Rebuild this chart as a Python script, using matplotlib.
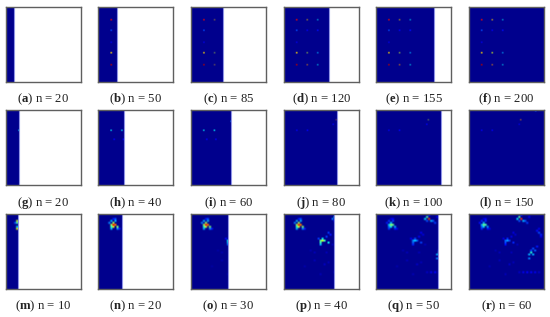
import matplotlib
matplotlib.use('Agg')
import matplotlib.pyplot as plt
import numpy as np
from matplotlib.patches import Rectangle

plt.rcParams['font.family'] = ['Liberation Serif', 'DejaVu Serif']
plt.rcParams['mathtext.fontset'] = 'custom'
plt.rcParams['mathtext.rm'] = 'Liberation Serif'
plt.rcParams['mathtext.bf'] = 'Liberation Serif:bold'

letters = list('abcdefghijklmnopqr')
n_values = [20, 50, 85, 120, 155, 200,
            20, 40, 60, 80, 100, 150,
            10, 20, 30, 40, 50, 60]
# share of the grid already filled at that n
fill = [0.10, 0.257, 0.42, 0.60, 0.775, 1.0,
        0.17, 0.35, 0.53, 0.70, 0.87, 1.0,
        0.155, 0.32, 0.487, 0.664, 0.827, 1.0]

# (column, row, value, strength) on a 75 x 75 scale
col1 = [(12, 12, 0.9, 1), (12, 23, 0.2, 1), (12, 35, 0.09, 1), (12, 46, 0.68, 1), (12, 57, 0.95, 1)]
col2_weak = [(23, 12, 0.7, 0.4), (23, 46, 0.6, 0.4), (23, 57, 0.7, 0.35)]
col2 = [(23, 12, 0.7, 0.55), (23, 23, 0.1, 1), (23, 46, 0.6, 0.55), (23, 57, 0.75, 0.55)]
col3 = [(34, 12, 0.35, 0.6), (34, 23, 0.14, 1), (34, 46, 0.3, 0.7), (34, 57, 0.35, 0.6)]
col2_last = [(23, 12, 0.7, 0.7), (23, 23, 0.1, 1), (23, 46, 0.62, 0.8), (23, 57, 0.75, 0.6)]
pair = [(13, 20, 0.35, 0.9), (23, 20, 0.35, 0.9), (15, 29, 0.12, 1), (24, 29, 0.12, 1)]
pair_faint = [(13, 20, 0.1, 1), (23, 20, 0.1, 1)]
blob_a = [(15, 11, 0.9, 1), (17, 11, 0.78, 1), (13, 11, 0.55, 1), (15, 9, 0.55, 1), (15, 13, 0.6, 1), (13, 13, 0.4, 1),
          (19, 13, 0.5, 1), (13, 7, 0.3, 1), (17, 7, 0.3, 1), (11, 9, 0.25, 1), (13, 15, 0.3, 1), (19, 15, 0.25, 1),
          (21, 15, 0.15, 1), (15, 5, 0.15, 1), (17, 5, 0.2, 1)]
blob_b = [(38, 26, 0.5, 1), (36, 26, 0.4, 1), (40, 26, 0.35, 1), (36, 28, 0.35, 1), (38, 24, 0.3, 1), (36, 30, 0.25, 1),
          (44, 29, 0.3, 1), (42, 22, 0.15, 1), (44, 18, 0.15, 1), (46, 20, 0.12, 1), (34, 24, 0.15, 1)]
blob_c = [(52, 5, 0.85, 1), (50, 3, 0.45, 1), (48, 4, 0.35, 1), (54, 7, 0.3, 1), (56, 6, 0.22, 1), (58, 8, 0.18, 1),
          (50, 7, 0.2, 1), (60, 3, 0.1, 1), (52, 1, 0.15, 1)]
blob_d = [(62, 39, 0.4, 1), (60, 41, 0.3, 1), (64, 41, 0.3, 1), (60, 45, 0.25, 1), (66, 36, 0.22, 1), (64, 35, 0.2, 1),
          (68, 33, 0.15, 1), (62, 37, 0.2, 1)]
blob_e = [(71, 18, 0.2, 1), (69, 16, 0.14, 1), (73, 20, 0.16, 1), (71, 14, 0.1, 1), (73, 23, 0.1, 1)]
streak = [(50, 59, 0.06, 1), (54, 59, 0.1, 1), (58, 59, 0.12, 1), (62, 59, 0.12, 1), (66, 58, 0.1, 1), (70, 58, 0.07, 1)]
haze = [(30, 46, 0.05, 1), (40, 50, 0.06, 1), (44, 48, 0.05, 1), (26, 36, 0.04, 1), (48, 30, 0.05, 1), (30, 38, 0.05, 1),
        (20, 52, 0.04, 1), (36, 60, 0.05, 1), (42, 38, 0.05, 1)]


def scaled(cells, k):
    return [(c, r, v * k, s) for c, r, v, s in cells]


spots = [
    [],
    col1,
    col1 + col2_weak,
    col1 + col2 + col3,
    col1 + col2 + col3,
    col1 + col2_last + col3,
    [(12, 20, 0.35, 0.9)],
    pair,
    pair + [(40, 11, 0.25, 0.8)],
    pair_faint + [(52, 10, 0.75, 0.35), (49, 14, 0.1, 1)],
    pair_faint + [(52, 10, 0.6, 0.35), (50, 14, 0.1, 1)],
    pair_faint + [(52, 10, 0.75, 0.5), (50, 14, 0.08, 1), (66, 0, 0.2, 1)],
    [(11, 7, 0.6, 1), (11, 9, 0.45, 1), (11, 13, 0.35, 1), (11, 15, 0.65, 1), (9, 9, 0.2, 1)],
    blob_a,
    blob_a + scaled(blob_b, 0.9) + scaled(haze, 0.8),
    blob_a + scaled(blob_b, 1.2) + scaled(blob_c, 0.7) + haze + streak,
    scaled(blob_a, 0.6) + scaled(blob_b, 0.65) + blob_c + blob_d + haze + streak,
    scaled(blob_a, 0.55) + scaled(blob_b, 0.55) + blob_c + blob_d + blob_e + haze + streak,
]

lefts = [6, 98, 191, 284, 376, 469]
tops = [7, 110, 214]
size = 75
caption_y = [99, 203, 306.5]
base = 0.015

W, H = 550, 317
fig = plt.figure(figsize=(W / 100, H / 100), dpi=100)

for i, letter in enumerate(letters):
    row, col = divmod(i, 6)
    ax = fig.add_axes([lefts[col] / W, 1 - (tops[row] + size) / H, size / W, size / H])
    # the spots of the top rows stay sharp, the bottom row is softer
    cells = 38 if row == 2 else 50
    grid = np.full((cells, cells), base)
    weight = np.ones((cells, cells))
    for c, r, v, s in spots[i]:
        grid[r * cells // 75, c * cells // 75] = v
        weight[r * cells // 75, c * cells // 75] = s
    rgb = plt.cm.jet(grid)[:, :, :3]
    rgb = rgb * weight[:, :, None] + np.array(plt.cm.jet(base)[:3]) * (1 - weight[:, :, None])
    if row == 2:
        im = ax.imshow(grid, cmap='jet', vmin=0, vmax=1, extent=(0, 1, 1, 0),
                       interpolation='bilinear', aspect='auto')
    else:
        im = ax.imshow(rgb, extent=(0, 1, 1, 0), interpolation='bilinear',
                       interpolation_stage='rgba', aspect='auto')
    im.set_clip_path(Rectangle((0, 0), fill[i], 1, transform=ax.transData))
    if fill[i] < 1:
        ax.axvline(fill[i], color='#8f93e6', lw=0.8)
    ax.set_xlim(0, 1)
    ax.set_ylim(1, 0)
    ax.set_xticks([])
    ax.set_yticks([])
    for s in ax.spines.values():
        s.set_color('#5f5f5f')
        s.set_linewidth(1.0)
    fig.text((lefts[col] + size / 2) / W, 1 - caption_y[row] / H,
             '($\\mathbf{%s}$) n = %d' % (letter, n_values[i]),
             ha='center', va='center', fontsize=9.2, color='#222222')

fig.savefig('out.png', dpi=100)
